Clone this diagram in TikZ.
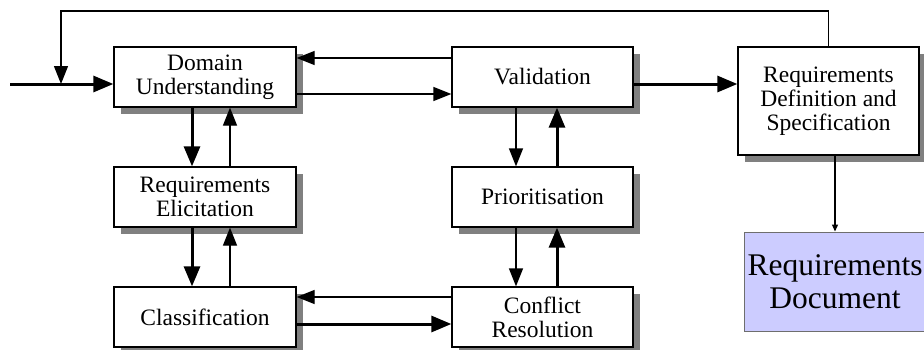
\documentclass[tikz,border=0pt]{standalone}
\usepackage{fontspec}
\setmainfont{Liberation Serif}
\usetikzlibrary{arrows.meta,shadows}
\definecolor{shadowgray}{HTML}{808080}
\definecolor{docfill}{HTML}{CCCCFF}
\definecolor{docborder}{HTML}{6E6E6E}
\tikzset{
  procbox/.style={draw=black, line width=1.3pt, fill=white, minimum width=182pt, minimum height=60pt,
    inner sep=0pt, align=center, font=\fontsize{23.5}{24}\selectfont,
    drop shadow={shadow xshift=7pt, shadow yshift=-7pt, fill=shadowgray, opacity=1}},
  docbox/.style={draw=docborder, line width=1pt, fill=docfill, minimum width=182pt, minimum height=99pt,
    inner sep=0pt, align=center, font=\fontsize{31.5}{33}\selectfont},
  thinarr/.style={line width=1.3pt, -{Triangle[length=18pt,width=14pt]}},
  thickarr/.style={line width=3pt, -{Triangle[length=20pt,width=16pt]}},
  smallarr/.style={line width=1.3pt, -{Triangle[length=7pt,width=6pt]}}
}
\begin{document}
\begin{tikzpicture}[x=1pt,y=-1pt]
\useasboundingbox (0,0) rectangle (924,349);
\node[procbox] (du) at (205,77) {Domain\\Understanding};
\node[procbox] (re) at (205,197) {Requirements\\Elicitation};
\node[procbox] (cl) at (205,317) {Classification};
\node[procbox, minimum width=181pt] (va) at (542.5,77) {Validation};
\node[procbox, minimum width=181pt] (pr) at (542.5,197) {Prioritisation};
\node[procbox, minimum width=181pt] (cr) at (542.5,317) {Conflict\\Resolution};
\node[procbox, minimum width=181pt, minimum height=108pt] (rds) at (828.5,101) {Requirements\\Definition and\\Specification};
\node[docbox] (doc) at (835,281.5) {Requirements\\Document};
\coordinate (in) at (10,84);
\coordinate (j) at (61,84);
\coordinate (fb) at (61,11);
% input and feedback
\draw[thickarr] (in) -- (in -| du.west);
\draw[thinarr] (rds.north) |- (fb) -- (j);
% domain <-> validation
\draw[thinarr] ([yshift=19pt]va.west) -- ([yshift=19pt]du.east);
\draw[thinarr] ([yshift=-17pt]du.east) -- ([yshift=-17pt]va.west);
% vertical left column
\draw[thickarr] ([xshift=-13pt]du.south) -- ([xshift=-13pt]re.north);
\draw[thinarr] ([xshift=25pt]re.north) -- ([xshift=25pt]du.south);
\draw[thickarr] ([xshift=-13pt]re.south) -- ([xshift=-13pt]cl.north);
\draw[thinarr] ([xshift=25pt]cl.north) -- ([xshift=25pt]re.south);
% classification <-> conflict
\draw[thickarr] ([yshift=-7pt]cl.east) -- ([yshift=-7pt]cr.west);
\draw[thinarr] ([yshift=20pt]cr.west) -- ([yshift=20pt]cl.east);
% right column
\draw[thinarr] ([xshift=-26.5pt]va.south) -- ([xshift=-26.5pt]pr.north);
\draw[thickarr] ([xshift=14.5pt]pr.north) -- ([xshift=14.5pt]va.south);
\draw[thinarr] ([xshift=-26.5pt]pr.south) -- ([xshift=-26.5pt]cr.north);
\draw[thickarr] ([xshift=14.5pt]cr.north) -- ([xshift=14.5pt]pr.south);
% validation -> definition
\draw[thickarr] ([yshift=-7pt]va.east) -- ([yshift=-7pt]va.east -| rds.west);
% definition -> document
\draw[smallarr] (rds.south -| doc.north) -- (doc.north);
\end{tikzpicture}
\end{document}
